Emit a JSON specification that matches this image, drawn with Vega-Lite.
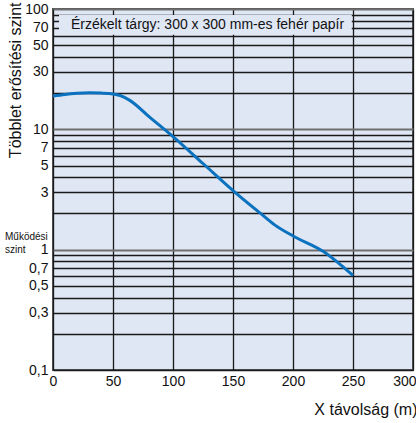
{
  "$schema": "https://vega.github.io/schema/vega-lite/v6.json",
  "autosize": "none",
  "width": 360,
  "height": 361,
  "padding": {"left": 53, "top": 9, "right": 3, "bottom": 53},
  "background": "white",
  "config": {
    "font": "Liberation Sans",
    "view": {"fill": "#dfe6f4", "stroke": "#555555", "strokeWidth": 2}
  },
  "datasets": {
    "curve": [
      {"x": 0, "y": 18.9}, {"x": 10, "y": 19.5}, {"x": 20, "y": 19.9}, {"x": 30, "y": 20.1},
      {"x": 40, "y": 20.0}, {"x": 50, "y": 19.7}, {"x": 56, "y": 19.1}, {"x": 64, "y": 17.4},
      {"x": 81, "y": 12.5}, {"x": 100, "y": 8.7}, {"x": 125, "y": 5.2}, {"x": 150, "y": 3.1},
      {"x": 173, "y": 2.0}, {"x": 185, "y": 1.6}, {"x": 200, "y": 1.3}, {"x": 225, "y": 0.97},
      {"x": 250, "y": 0.61}
    ],
    "box": [{"x": 5, "x2": 249, "y": 61, "y2": 89, "label": "Érzékelt tárgy: 300 x 300 mm-es fehér papír", "tx": 15, "ty": 74}],
    "note": [
      {"x": -40, "y": 1.28, "t": "Működési"},
      {"x": -40, "y": 1.0, "t": "szint"}
    ]
  },
  "layer": [
    {
      "data": {"name": "box"},
      "mark": {"type": "rect", "fill": "#dfe6f4", "stroke": null},
      "encoding": {
        "x": {"field": "x", "type": "quantitative", "scale": {"domain": [0, 300]},
          "axis": {"values": [0, 50, 100, 150, 200, 250, 300], "title": "X távolság (m)", "ticks": false, "domain": false,
            "grid": true, "gridColor": "#1a1a1a", "gridWidth": 1.3,
            "labelFontSize": 14, "labelColor": "#111", "labelPadding": 4, "labelFlush": false,
            "labelAlign": {"condition": {"test": "datum.value == 300", "value": "right"}, "value": "center"},
            "labelOffset": {"condition": {"test": "datum.value == 300", "value": 3}, "value": 0},
            "titleFontSize": 16, "titleFontWeight": "normal", "titleColor": "#111",
            "titleAlign": "right", "titleBaseline": "top", "titleX": 364, "titleY": 31}},
        "x2": {"field": "x2"},
        "y": {"field": "y", "type": "quantitative",
          "scale": {"type": "log", "domain": [0.1, 100], "nice": false},
          "axis": {
            "values": [0.1, 0.2, 0.3, 0.4, 0.5, 0.6, 0.7, 0.8, 0.9, 1, 2, 3, 4, 5, 6, 7, 8, 9, 10, 20, 30, 40, 50, 60, 70, 80, 90, 100],
            "labelExpr": "indexof([0.1, 0.3, 0.5, 0.7, 1, 3, 5, 7, 10, 30, 50, 70, 100], datum.value) >= 0 ? replace(toString(datum.value), '.', ',') : ''",
            "labelOverlap": false, "ticks": false, "domain": false,
            "grid": true,
            "gridColor": {"condition": {"test": "datum.value == 1 || datum.value == 10 || datum.value == 100", "value": "#6e6e6e"}, "value": "#1a1a1a"},
            "gridWidth": {"condition": {"test": "datum.value == 1 || datum.value == 10 || datum.value == 100", "value": 2.2}, "value": 1.3},
            "labelFontSize": 14, "labelColor": "#111", "labelPadding": 5,
            "title": "Többlet erősítési szint", "titleFontSize": 16, "titleFontWeight": "normal", "titleColor": "#111",
            "titleAngle": -90, "titleAlign": "right", "titleBaseline": "middle", "titleX": -38, "titleY": -7
          }},
        "y2": {"field": "y2"}
      }
    },
    {
      "data": {"name": "box"},
      "mark": {"type": "text", "align": "left", "baseline": "middle", "fontSize": 14, "color": "#111"},
      "encoding": {
        "x": {"field": "tx", "type": "quantitative"},
        "y": {"field": "ty", "type": "quantitative"},
        "text": {"field": "label"}
      }
    },
    {
      "data": {"name": "curve"},
      "mark": {"type": "line", "interpolate": "monotone", "color": "#0b72bf", "strokeWidth": 3},
      "encoding": {
        "x": {"field": "x", "type": "quantitative"},
        "y": {"field": "y", "type": "quantitative"}
      }
    },
    {
      "data": {"name": "note"},
      "mark": {"type": "text", "align": "left", "baseline": "middle", "fontSize": 10, "color": "#111"},
      "encoding": {
        "x": {"field": "x", "type": "quantitative"},
        "y": {"field": "y", "type": "quantitative"},
        "text": {"field": "t"}
      }
    }
  ]
}
